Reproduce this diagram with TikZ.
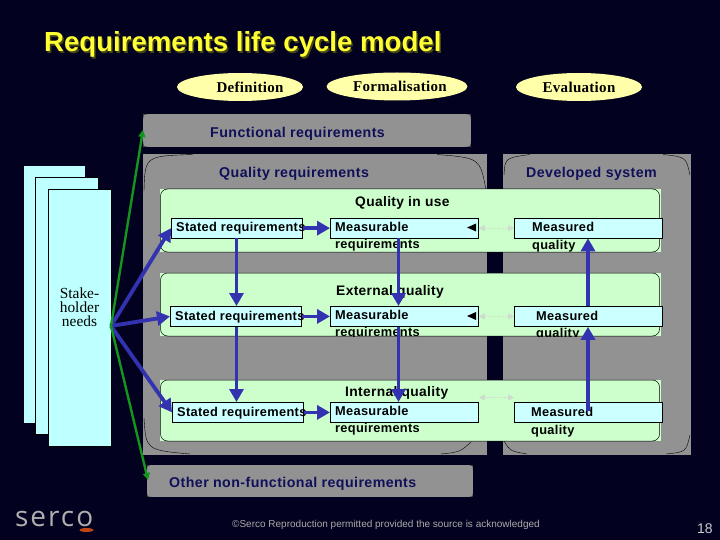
\documentclass[tikz,border=0pt]{standalone}
\usepackage{fontspec}
\setmainfont{Liberation Sans}
\newfontfamily\serifface{Liberation Serif}
\newfontfamily\logoface{Open Sans}
\usetikzlibrary{arrows.meta,shapes.geometric}
\definecolor{bgnavy}{RGB}{2,2,32}
\definecolor{ttlyellow}{RGB}{255,255,51}
\definecolor{ttlshadow}{RGB}{70,70,20}
\definecolor{ellyellow}{RGB}{255,255,170}
\definecolor{boxgray}{RGB}{146,146,146}
\definecolor{panelgreen}{RGB}{204,255,204}
\definecolor{pagecyan}{RGB}{190,255,255}
\definecolor{reqcyan}{RGB}{204,255,255}
\definecolor{labelnavy}{RGB}{16,16,90}
\definecolor{arrowblue}{RGB}{51,51,178}
\definecolor{arrowgreen}{RGB}{20,150,30}
\definecolor{footgray}{RGB}{170,170,170}
\definecolor{logogray}{RGB}{175,175,175}
\definecolor{logoorange}{RGB}{190,70,20}
\definecolor{faintgray}{RGB}{205,220,205}
\tikzset{
  x=1pt,y=-1pt,
  phase/.style={ellipse,fill=ellyellow,minimum width=126pt,minimum height=28pt,inner sep=0pt,
    font=\serifface\bfseries\fontsize{15}{16}\selectfont\addfontfeature{LetterSpace=2},text=black},
  graybox/.style={fill=boxgray,draw=none},
  navytext/.style={anchor=base west,inner sep=0pt,text=labelnavy,
    font=\bfseries\fontsize{14.2}{16}\selectfont\addfontfeature{LetterSpace=3}},
  paneltitle/.style={anchor=base west,inner sep=0pt,text=black,
    font=\bfseries\fontsize{13.8}{16}\selectfont\addfontfeature{LetterSpace=2.5}},
  reqbox/.style={draw=black,line width=.8pt,fill=reqcyan,anchor=north west,inner sep=0pt},
  reqtext/.style={anchor=base west,inner sep=0pt,text=black,
    font=\bfseries\fontsize{12.8}{15}\selectfont\addfontfeature{LetterSpace=2.5}},
  thinarc/.style={draw=black,line width=.4pt},
  bluearrow/.style={draw=arrowblue,line width=3.8pt,-{Triangle[length=13pt,width=14pt]}},
  greenarrow/.style={draw=arrowgreen,line width=2.4pt,-{Triangle[length=7pt,width=7pt]}},
  faintarrow/.style={draw=faintgray,line width=.7pt,densely dotted,{Triangle[length=6pt,width=6pt]}-{Triangle[length=6pt,width=6pt]}},
  blackhead/.style={fill=black,draw=none}
}
\begin{document}
\begin{tikzpicture}
\useasboundingbox (0,0) rectangle (720,540);
\fill[bgnavy] (0,0) rectangle (720,540);
% title
\node[anchor=base west,inner sep=0pt,font=\bfseries\fontsize{27.6}{30}\selectfont] (title) at (44,52)
  {\rlap{\raisebox{-1.5pt}{\kern1.5pt\textcolor{ttlshadow}{Requirements life cycle model}}}\textcolor{ttlyellow}{Requirements life cycle model}};
% phases
\node[phase] (def) at (240,87) {\hspace*{20pt}Definition};
\node[phase] (frm) at (397,86.5) {\raisebox{1pt}{\hspace*{6pt}Formalisation}};
\node[phase] (eva) at (579,87) {Evaluation};
% gray boxes
\fill[graybox] (143,114) rectangle (471,147);
\coordinate (funcW) at (143,130);
\draw[thinarc] (143,119) .. controls (143,114) .. (148,114);
\draw[thinarc] (143,142) .. controls (143,147) .. (148,147);
\draw[thinarc] (466,114) .. controls (471,114) .. (471,119);
\draw[thinarc] (466,147) .. controls (471,147) .. (471,142);
\fill[graybox] (143,154) rectangle (487,455);
\fill[graybox] (503,154) rectangle (691,455);
\draw[thinarc] (144,191) .. controls (145,156) .. (193,154.5);
\draw[thinarc] (437,154.5) .. controls (480,158) .. (486,190);
\draw[thinarc] (144,418) .. controls (146,450) .. (190,454);
\draw[thinarc] (441,454) .. controls (460,452) .. (471,442);
\draw[thinarc] (504,175) .. controls (505,158) .. (530,154.5);
\draw[thinarc] (663,154.5) .. controls (686,157) .. (690,175);
\draw[thinarc] (504,441) .. controls (510,451) .. (527,454);
\draw[thinarc] (666,454) .. controls (686,452) .. (690,435);
\fill[graybox] (147,465) rectangle (473,497);
\draw[thinarc] (147,470) .. controls (147,465) .. (150,465);
\draw[thinarc] (147,493) .. controls (147,497) .. (151,497);
\draw[thinarc] (470,465) .. controls (473,465) .. (473,469);
\draw[thinarc] (469,497) .. controls (473,497) .. (473,493);
% labels on gray
\node[navytext] (lfunc) at (210,138) {Functional requirements};
\node[navytext] (lqual) at (219,178) {Quality requirements};
\node[navytext] (ldev) at (526,178) {Developed system};
\node[navytext] (loth) at (169,487) {Other non-functional requirements};
% pages
\fill[pagecyan] (24,166) rectangle (85,423);
\fill[pagecyan,draw=black,line width=.5pt] (35.5,177) rectangle (98,434);
\fill[pagecyan,draw=black,line width=.5pt] (48.5,189) rectangle (111,446);
\node[font=\serifface\fontsize{15.4}{14}\selectfont,align=center,inner sep=0pt,text=black] (stake) at (79.5,307)
  {Stake-\\holder\\needs};
\coordinate (hub) at (111,326);
% green panels
\foreach \a/\b in {189/252,273/336,380/441}{
  \fill[panelgreen] (160,\a) rectangle (661,\b);
  \draw[black,line width=.5pt,rounded corners=7pt] (160.5,\a) rectangle (659.5,\b);
}
% panel titles
\node[paneltitle] (t1) at (355,207) {Quality in use};
\node[paneltitle] (t2) at (336,295) {External quality};
\node[paneltitle] (t3) at (345,396) {Internal quality};
% requirement boxes
\node[reqbox,minimum width=131pt,minimum height=19.5pt] (s1) at (171,218) {};
\node[reqbox,minimum width=131pt,minimum height=20pt] (s2) at (170,306) {};
\node[reqbox,minimum width=131pt,minimum height=20pt] (s3) at (172,402) {};
\node[reqbox,minimum width=148pt,minimum height=19.5pt] (m1) at (330,218) {};
\node[reqbox,minimum width=148pt,minimum height=20pt] (m2) at (330,306) {};
\node[reqbox,minimum width=148pt,minimum height=20pt] (m3) at (330,402) {};
\node[reqbox,minimum width=148pt,minimum height=19.5pt] (q1) at (514,218) {};
\node[reqbox,minimum width=148pt,minimum height=20pt] (q2) at (514,306) {};
\node[reqbox,minimum width=148pt,minimum height=20pt] (q3) at (514,402) {};
% box texts
\node[reqtext] (ts1) at (176,232) {Stated requirements};
\node[reqtext] (ts2) at (175,320) {Stated requirements};
\node[reqtext] (ts3) at (177,416) {Stated requirements};
\node[reqtext] (tm1) at (335,231) {Measurable};
\node[reqtext] (tm1b) at (335,248) {requirements};
\node[reqtext] (tm2) at (335,319) {Measurable};
\begin{scope}
  \clip (160,326) rectangle (661,336);
  \node[reqtext] (tm2b) at (335,336.5) {requirements};
  \node[reqtext] (tq2b) at (536,337) {quality};
\end{scope}
\node[reqtext] (tm3) at (335,415) {Measurable};
\node[reqtext] (tm3b) at (335,432) {requirements};
\node[reqtext] (tq1) at (532,232) {Measured};
\node[reqtext] (tq1b) at (532,249) {quality};
\node[reqtext] (tq2) at (536,320) {Measured};
\node[reqtext] (tq3) at (531,416) {Measured};
\node[reqtext] (tq3b) at (531,434) {quality};
% faint links and small heads
\coordinate (d3a) at (479,397.5);
\coordinate (d3b) at (514,397.5);
\draw[faintarrow] (m1.east) -- (q1.west);
\draw[faintarrow] (m2.east) -- (q2.west);
\draw[faintarrow] (d3a) -- (d3b);
\fill[blackhead] (467,227.5) -- (476,223.5) -- (476,231.5) -- cycle;
\fill[blackhead] (467,316) -- (476,312) -- (476,320) -- cycle;
% arrows
\coordinate (sx) at (236.5,270);
\coordinate (mx) at (398.5,270);
\coordinate (qx) at (588,270);
\coordinate (q3mid) at (588,411);
\draw[bluearrow] (hub) -- (s1.west);
\draw[bluearrow] (hub) -- (s2.west);
\draw[bluearrow] (hub) -- (s3.west);
\draw[bluearrow] (s1.south -| sx) -- (s2.north -| sx);
\draw[bluearrow] (s2.south -| sx) -- (s3.north -| sx);
\draw[bluearrow] (m1.south -| mx) -- (m2.north -| mx);
\draw[bluearrow] (m2.south -| mx) -- (m3.north -| mx);
\draw[bluearrow] (q3mid) -- (q2.south -| qx);
\draw[bluearrow] (q2.north -| qx) -- (q1.south -| qx);
\draw[bluearrow] (s1.east) -- (m1.west);
\draw[bluearrow] (s2.east) -- (m2.west);
\draw[bluearrow] (s3.east) -- (m3.west);
\draw[greenarrow] (hub) -- (funcW);
\coordinate (othW) at (148,480);
\draw[greenarrow] (hub) -- (othW);
% footer
\node[anchor=base west,inner sep=0pt,text=logogray,font=\logoface\fontsize{28}{30}\selectfont\addfontfeature{LetterSpace=7}] (logo) at (15,526) {serco};
\fill[logoorange] (86.5,530) ellipse [x radius=7,y radius=2];
\node[anchor=base west,inner sep=0pt,text=footgray,font=\fontsize{10}{11}\selectfont] (foot) at (232,527) {©Serco Reproduction permitted provided the source is acknowledged};
\node[anchor=base west,inner sep=0pt,text=footgray!60!white,font=\fontsize{14}{16}\selectfont] (pg) at (697,533) {18};
\end{tikzpicture}
\end{document}
